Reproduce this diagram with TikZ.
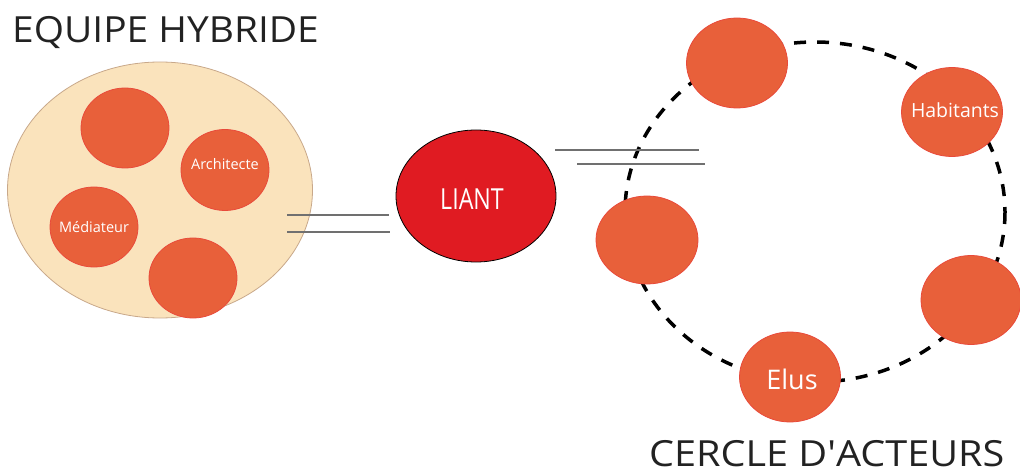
\documentclass[tikz,border=0pt]{standalone}
\usepackage{fontspec}
\setmainfont{Open Sans}
\usetikzlibrary{shapes.geometric}
\definecolor{peach}{HTML}{FAE3BC}
\definecolor{peachedge}{HTML}{C8A88A}
\definecolor{actor}{HTML}{E8603A}
\definecolor{actoredge}{HTML}{E84A3A}
\definecolor{liant}{HTML}{E01B22}
\definecolor{linegray}{HTML}{707070}
\definecolor{titlecol}{HTML}{222222}
\tikzset{
  actorbox/.style={ellipse, fill=actor, draw=actoredge, line width=0.8pt, inner sep=0pt},
  actorlabel/.style={text=white, inner sep=0pt, font=\fontsize{#1}{#1}\selectfont},
  twinline/.style={draw=linegray, line width=1.5pt},
  titletext/.style={text=titlecol, font=\fontsize{36}{40}\selectfont, inner sep=0pt, anchor=base west},
}
\begin{document}
\begin{tikzpicture}[x=1pt,y=-1pt]
\useasboundingbox (0,0) rectangle (1020,473);
% titles
\node[titletext] (t1) at (12,43) {\scalebox{1.08}[1]{EQUIPE HYBRIDE}};
\node[titletext] (t2) at (649,466) {\scalebox{1.1}[1]{CERCLE D\textquotesingle ACTEURS}};
% big circle
\node[ellipse, fill=peach, draw=peachedge, line width=0.8pt, minimum width=305pt, minimum height=256pt, inner sep=0pt] (team) at (160,190) {};
\node[actorbox, minimum width=88pt, minimum height=80pt] (m1) at (125,128) {};
\node[actorbox, minimum width=88pt, minimum height=81pt,
  label={[actorlabel=14.5, yshift=6pt]center:Architecte}] (archi) at (225,170) {};
\node[actorbox, minimum width=88pt, minimum height=80pt,
  label={[actorlabel=14.5]center:Médiateur}] (media) at (94,227) {};
\node[actorbox, minimum width=88pt, minimum height=80pt] (m4) at (193,278) {};
% liant
\node[ellipse, fill=liant, draw=black, line width=0.8pt, minimum width=160pt, minimum height=132pt, inner sep=0pt] (liant) at (476,196) {};
\node[text=white, inner sep=0pt, font=\fontsize{29}{32}\selectfont] (liantlabel) at (472,199) {\scalebox{0.8}[1]{LIANT}};
% twin lines left
\coordinate (l1a) at (287,215); \coordinate (l1b) at (389,215);
\coordinate (l2a) at (287,232); \coordinate (l2b) at (390,232);
\draw[twinline] (l1a) -- (l1b);
\draw[twinline] (l2a) -- (l2b);
% dashed circle
\coordinate (cc) at (815,212);
\draw[black, line width=3.5pt, dash pattern=on 12pt off 11pt] (cc) ellipse [x radius=190, y radius=170];
% twin lines right
\coordinate (r1a) at (555,150); \coordinate (r1b) at (699,150);
\coordinate (r2a) at (577,164); \coordinate (r2b) at (705,164);
\draw[twinline] (r1a) -- (r1b);
\draw[twinline] (r2a) -- (r2b);
% actors
\node[actorbox, minimum width=101pt, minimum height=90pt] (a1) at (737,63) {};
\node[actorbox, minimum width=101pt, minimum height=89pt,
  label={[actorlabel=19.5, xshift=3pt, yshift=1.5pt]center:Habitants}] (hab) at (952,112) {};
\node[actorbox, minimum width=102pt, minimum height=88pt] (a3) at (647,240) {};
\node[actorbox, minimum width=100pt, minimum height=89pt] (a4) at (971,300) {};
\node[actorbox, minimum width=101pt, minimum height=90pt,
  label={[actorlabel=27, xshift=2pt, yshift=-2pt]center:Elus}] (elus) at (790,377) {};
\end{tikzpicture}
\end{document}
